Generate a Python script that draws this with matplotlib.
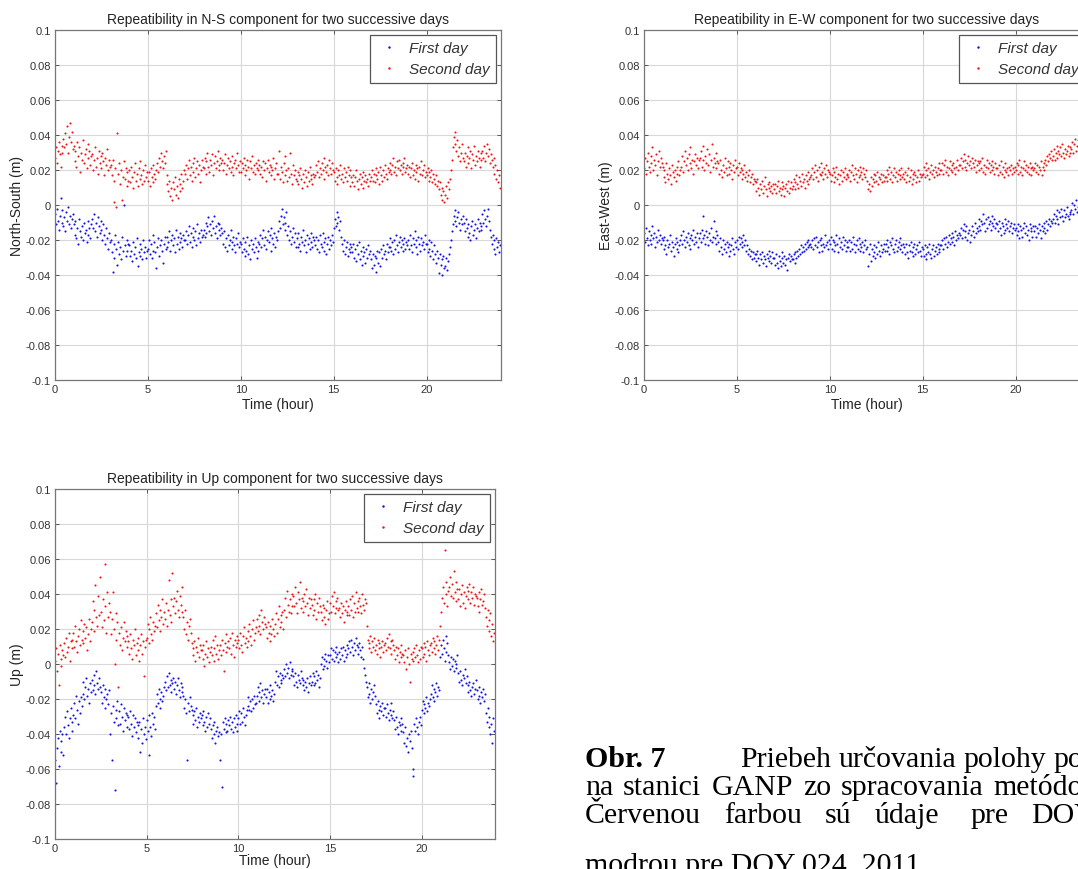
import numpy as np
import matplotlib
matplotlib.use("Agg")
import matplotlib.pyplot as plt
from matplotlib.lines import Line2D

# ---------------- data (mm), one sample every 3 minutes, 20 per hour ----------------
SAMPLE_MIN = 3

ns_day1 = [
 -5,-11,-2,-9,-14,-6,4,-10,-3,-12,-7,-15,-4,-9,-1,-11,-6,-13,-8,-5,
 -11,-17,-9,-19,-13,-22,-8,-15,-18,-12,-20,-10,-16,-14,-21,-9,-17,-13,-19,-11,
 -8,-13,-5,-15,-10,-18,-7,-12,-16,-9,-14,-20,-11,-17,-22,-13,-19,-25,-16,-21,
 -20,-27,-38,-22,-30,-17,-25,-34,-21,-28,-24,-31,-18,-26,0,-23,-29,-20,-26,-22,
 -23,-29,-26,-32,-21,-28,-24,-30,-19,-35,-27,-22,-29,-25,-31,-20,-27,-24,-30,-26,
 -25,-20,-28,-22,-30,-17,-26,-21,-27,-36,-24,-19,-29,-23,-20,-26,-33,-22,-18,-25,
 -18,-24,-21,-15,-26,-20,-17,-23,-19,-27,-14,-22,-18,-25,-16,-21,-19,-24,-17,-20,
 -20,-15,-22,-17,-12,-21,-16,-24,-18,-13,-20,-15,-23,-11,-19,-16,-21,-14,-18,-17,
 -14,-18,-10,-16,-12,-7,-15,-11,-17,-9,-13,-6,-16,-12,-19,-10,-14,-11,-17,-13,
 -16,-22,-15,-24,-19,-26,-17,-23,-20,-14,-25,-21,-18,-23,-27,-19,-22,-16,-24,-21,
 -22,-27,-19,-25,-29,-21,-26,-18,-28,-23,-31,-20,-25,-22,-27,-19,-24,-30,-21,-26,
 -22,-17,-24,-19,-14,-23,-18,-25,-20,-15,-21,-17,-26,-13,-19,-22,-16,-24,-18,-20,
 -15,-9,-13,-6,-2,-11,-7,-14,-10,-4,-17,-12,-20,-15,-22,-18,-13,-21,-16,-24,
 -19,-24,-16,-22,-26,-18,-21,-14,-23,-20,-27,-17,-22,-19,-25,-16,-21,-24,-18,-20,
 -23,-18,-25,-20,-27,-17,-22,-24,-16,-26,-21,-19,-28,-22,-18,-25,-20,-23,-17,-21,
 -13,-8,-12,-4,-10,-7,-14,-9,-18,-22,-26,-20,-28,-24,-21,-29,-25,-22,-27,-24,
 -27,-22,-30,-25,-32,-23,-28,-21,-31,-26,-34,-24,-29,-27,-33,-25,-30,-23,-28,-26,
 -31,-36,-28,-34,-29,-38,-30,-26,-33,-27,-35,-25,-30,-23,-28,-26,-31,-22,-27,-24,
 -24,-19,-26,-21,-28,-20,-25,-17,-23,-27,-21,-18,-24,-20,-26,-22,-19,-25,-21,-23,
 -20,-25,-17,-23,-27,-19,-22,-15,-24,-20,-28,-18,-22,-26,-19,-23,-21,-25,-17,-22,
 -22,-27,-20,-25,-29,-21,-26,-31,-23,-28,-33,-26,-30,-39,-28,-34,-31,-40,-29,-36,
 -35,-30,-37,-32,-28,-24,-20,-15,-11,-6,-3,-9,-12,-7,-4,-10,-14,-8,-11,-6,
 -10,-15,-8,-13,-18,-11,-16,-20,-12,-9,-17,-14,-11,-19,-13,-8,-15,-10,-14,-12,
 -5,-10,-3,-8,-12,-6,-2,-9,-14,-18,-22,-17,-25,-20,-28,-19,-24,-21,-27,-23,
]
ns_day2 = [
 27,33,24,31,36,29,22,34,30,38,33,41,35,45,30,39,47,36,42,32,
 34,25,31,22,36,28,33,19,30,26,37,24,29,32,21,35,27,31,23,28,
 29,20,26,33,22,27,18,31,24,28,21,30,25,17,27,23,32,20,26,22,
 23,17,26,14,2,21,-1,41,18,24,12,20,3,16,25,15,21,11,19,14,
 20,13,22,16,10,19,24,14,18,11,21,15,25,17,12,20,14,23,16,19,
 14,19,11,21,16,13,23,18,15,20,24,19,27,22,30,25,21,28,24,31,
 17,12,8,14,5,10,3,13,9,16,6,11,4,15,8,12,18,10,14,20,
 18,23,15,21,26,17,22,14,24,19,27,16,21,25,18,23,13,20,26,22,
 21,27,18,25,30,22,19,26,23,29,17,24,28,21,25,31,20,23,27,24,
 26,20,24,29,18,23,27,21,25,19,28,22,17,24,26,21,30,23,19,25,
 19,24,21,27,17,23,20,26,22,15,25,21,28,19,23,18,24,21,26,20,
 23,18,22,16,25,20,24,14,21,26,19,23,17,22,20,27,15,21,24,18,
 18,31,15,22,19,13,24,17,28,20,14,21,16,30,18,12,23,17,20,15,
 14,19,12,17,21,15,10,18,13,20,16,11,19,14,22,15,17,12,18,16,
 17,23,19,25,16,21,18,24,20,27,15,22,19,23,17,26,21,18,24,20,
 19,14,21,16,12,20,17,23,15,18,13,21,16,19,14,22,17,11,20,16,
 13,17,11,16,20,14,9,15,18,12,16,10,19,14,17,13,15,11,18,14,
 16,20,14,18,13,21,17,15,19,12,22,17,14,20,16,23,18,15,21,19,
 20,24,18,23,27,19,22,17,25,21,26,20,23,18,24,22,27,19,21,23,
 18,22,16,21,24,17,20,15,23,19,21,14,22,18,25,17,20,23,16,19,
 17,21,14,19,16,20,13,18,15,12,17,11,14,9,13,6,10,3,8,2,
 6,11,4,13,9,15,20,26,33,39,42,35,31,37,28,33,25,30,35,27,
 25,30,22,28,33,24,27,31,21,29,26,34,23,28,25,31,27,22,30,26,
 31,27,34,25,30,35,28,32,24,29,26,22,27,18,23,15,20,13,17,10,
]
ew_day1 = [
 -16,-21,-13,-19,-23,-15,-20,-17,-22,-12,-19,-16,-24,-18,-21,-14,-20,-17,-22,-19,
 -20,-25,-18,-23,-28,-20,-24,-22,-17,-26,-21,-24,-29,-22,-19,-25,-21,-27,-23,-20,
 -17,-22,-15,-20,-24,-18,-21,-16,-23,-19,-25,-17,-20,-14,-22,-18,-21,-16,-24,-19,
 -16,-21,-14,-19,-6,-17,-22,-15,-18,-23,-16,-20,-13,-21,-18,-9,-19,-15,-22,-17,
 -21,-26,-19,-24,-28,-20,-25,-22,-27,-21,-24,-29,-22,-26,-23,-19,-25,-28,-21,-24,
 -20,-25,-18,-22,-19,-24,-21,-17,-23,-20,-26,-23,-28,-25,-29,-26,-31,-27,-30,-28,
 -28,-32,-26,-30,-34,-28,-31,-27,-33,-29,-31,-35,-28,-30,-26,-32,-29,-33,-27,-30,
 -30,-34,-28,-33,-36,-29,-32,-35,-30,-27,-33,-29,-34,-31,-37,-30,-28,-32,-29,-31,
 -31,-28,-33,-27,-30,-26,-29,-25,-28,-23,-27,-24,-26,-22,-25,-21,-24,-20,-23,-22,
 -24,-20,-25,-19,-23,-18,-24,-21,-27,-20,-23,-19,-26,-22,-24,-17,-23,-21,-25,-20,
 -22,-18,-25,-20,-26,-21,-23,-17,-22,-27,-19,-24,-21,-25,-18,-23,-20,-26,-21,-24,
 -24,-20,-26,-21,-25,-18,-22,-27,-23,-20,-25,-19,-26,-22,-24,-21,-27,-23,-20,-25,
 -24,-35,-28,-22,-32,-25,-29,-23,-27,-30,-24,-28,-21,-26,-29,-23,-27,-25,-22,-26,
 -22,-26,-20,-24,-28,-21,-23,-19,-25,-27,-22,-20,-26,-24,-21,-25,-19,-23,-27,-22,
 -24,-28,-22,-27,-30,-23,-26,-21,-27,-29,-24,-22,-28,-25,-23,-27,-21,-26,-29,-24,
 -25,-29,-23,-28,-31,-24,-27,-22,-28,-30,-25,-23,-29,-26,-24,-28,-22,-27,-25,-23,
 -23,-20,-25,-19,-22,-18,-24,-21,-17,-22,-19,-16,-21,-18,-23,-15,-20,-17,-19,-16,
 -17,-13,-19,-14,-11,-18,-15,-12,-20,-16,-14,-21,-17,-12,-15,-18,-10,-16,-13,-15,
 -12,-8,-14,-9,-11,-5,-10,-15,-8,-13,-7,-11,-9,-14,-6,-10,-12,-8,-13,-10,
 -11,-15,-9,-13,-17,-10,-12,-16,-8,-14,-11,-13,-9,-15,-12,-10,-16,-13,-11,-14,
 -13,-17,-11,-15,-19,-12,-14,-18,-13,-10,-16,-12,-17,-14,-20,-11,-15,-13,-18,-12,
 -15,-12,-18,-13,-16,-11,-14,-19,-12,-15,-13,-10,-16,-9,-14,-11,-8,-12,-9,-10,
 -8,-5,-10,-6,-3,-8,-11,-4,-7,-2,-6,-9,-3,-7,-5,-1,-6,-8,-4,-5,
 -3,1,-5,0,-2,3,-4,-1,-6,2,-3,0,-5,-2,-7,-3,-1,-6,-4,-5,
]
ew_day2 = [
 21,27,18,25,30,22,19,28,24,33,20,26,23,29,17,25,31,22,27,24,
 22,16,20,13,24,18,15,21,17,12,23,19,16,20,14,22,18,25,17,20,
 22,28,19,25,31,23,27,20,29,24,33,21,26,18,25,29,23,27,21,26,
 27,31,22,34,26,20,28,24,32,23,29,19,26,35,22,27,24,30,21,25,
 24,18,26,20,16,23,19,27,21,17,25,22,18,24,20,15,23,19,26,21,
 22,17,24,19,21,15,20,18,23,16,19,14,17,20,13,16,18,12,15,14,
 13,8,15,10,6,12,9,14,7,11,16,9,5,12,10,13,8,11,7,12,
 9,12,7,11,14,8,10,6,13,9,11,5,10,12,8,14,7,10,13,9,
 11,15,9,13,17,12,10,16,14,11,18,13,15,10,17,14,12,19,15,16,
 17,21,15,19,23,16,20,14,22,18,24,17,19,15,21,18,23,16,20,19,
 18,14,17,21,13,19,16,22,15,18,12,17,20,14,19,16,21,15,18,17,
 16,20,14,19,23,17,15,21,18,13,20,16,22,17,19,15,21,18,16,20,
 14,9,12,8,16,11,15,18,13,17,14,19,12,16,15,18,13,17,14,16,
 16,20,14,18,22,15,19,13,17,21,16,19,14,18,20,15,17,21,16,18,
 15,19,13,17,21,14,16,20,12,18,15,19,17,13,16,20,14,18,16,17,
 18,22,16,20,24,17,21,15,19,23,18,20,16,22,19,17,21,24,18,20,
 20,24,18,23,26,19,22,17,21,25,20,23,19,24,21,18,22,26,20,23,
 23,27,21,25,29,22,26,20,24,28,23,25,21,27,24,22,26,19,23,25,
 24,20,25,21,27,19,23,18,22,26,21,24,19,23,20,25,22,18,24,21,
 21,17,23,19,25,18,22,16,20,24,19,21,17,22,20,23,18,21,19,22,
 20,24,18,23,26,19,22,17,21,25,20,23,19,22,18,24,21,17,22,20,
 21,24,19,23,18,22,20,25,17,22,24,20,26,23,28,25,29,27,31,26,
 28,32,26,30,34,27,31,29,33,28,35,30,27,32,29,31,34,28,33,30,
 32,36,30,35,38,31,34,37,33,36,31,35,39,33,36,32,37,34,38,35,
]
up_day1 = [
 -55,-68,-48,-42,-58,-38,-50,-44,-40,-52,-36,-30,-40,-27,-35,-42,-31,-25,-38,-33,
 -29,-22,-31,-18,-26,-34,-21,-28,-19,-24,-17,-10,-20,-13,-8,-18,-14,-22,-11,-16,
 -9,-15,-6,-12,-17,-4,-11,-14,-8,-13,-16,-22,-12,-19,-25,-14,-20,-17,-23,-15,
 -40,-28,-55,-24,-33,-72,-26,-31,-21,-35,-27,-34,-23,-30,-38,-25,-32,-28,-36,-29,
 -30,-37,-27,-34,-41,-29,-36,-31,-39,-33,-35,-42,-33,-50,-37,-45,-31,-40,-36,-43,
 -32,-38,-52,-29,-36,-41,-28,-34,-30,-37,-24,-17,-22,-14,-20,-25,-16,-21,-18,-13,
 -10,-15,-7,-13,-5,-12,-9,-16,-11,-8,-14,-10,-17,-12,-8,-15,-19,-11,-13,-16,
 -18,-25,-20,-28,-55,-22,-27,-19,-24,-26,-29,-34,-27,-32,-25,-36,-30,-33,-28,-31,
 -29,-35,-27,-33,-38,-30,-36,-28,-34,-31,-37,-42,-35,-40,-33,-45,-38,-36,-41,-39,
 -55,-40,-70,-33,-37,-31,-39,-34,-38,-32,-35,-30,-37,-33,-39,-31,-36,-29,-34,-38,
 -31,-27,-34,-28,-33,-25,-30,-35,-29,-26,-24,-19,-26,-21,-27,-20,-25,-18,-23,-22,
 -18,-13,-21,-16,-11,-19,-15,-22,-17,-14,-19,-14,-22,-16,-20,-12,-18,-15,-21,-17,
 -10,-4,-12,-7,-13,-5,-9,-11,-6,-8,-3,-7,0,-5,-2,-8,1,-6,-4,-3,
 -7,-12,-5,-10,-13,-6,-9,-11,-4,-8,-12,-9,-15,-10,-13,-8,-16,-11,-7,-12,
 -10,-5,-12,-7,-11,-4,-9,-6,-13,-8,0,4,-3,3,-1,6,2,-2,5,1,
 5,9,3,8,2,7,10,4,6,1,7,3,9,5,10,2,8,4,11,6,
 9,13,7,14,10,5,12,8,15,11,10,6,12,8,4,10,3,-2,-6,-10,
 -13,-19,-11,-17,-22,-14,-20,-16,-12,-18,-23,-28,-21,-26,-31,-24,-27,-22,-29,-25,
 -25,-30,-23,-28,-32,-26,-29,-22,-31,-27,-32,-37,-30,-36,-40,-33,-35,-31,-38,-34,
 -39,-45,-36,-47,-42,-50,-40,-44,-38,-48,-64,-60,-34,-38,-31,-36,-40,-33,-30,-35,
 -26,-21,-28,-23,-25,-19,-27,-22,-24,-20,-17,-12,-19,-14,-21,-16,-11,-18,-13,-15,
 4,11,6,14,9,2,16,7,12,5,1,-3,4,-1,3,-4,2,0,-2,5,
 -5,-10,-4,-9,-12,-6,-8,-3,-11,-7,-12,-16,-10,-15,-18,-13,-11,-17,-14,-9,
 -15,-20,-13,-18,-22,-16,-19,-14,-21,-17,-28,-33,-25,-36,-30,-40,-34,-45,-31,-38,
]
up_day2 = [
 2,9,-4,6,-12,11,3,-1,8,5,12,4,15,7,10,18,2,13,9,14,
 18,10,22,13,7,16,20,11,25,14,19,12,23,15,21,8,17,26,13,20,
 24,36,19,31,45,27,22,39,28,50,30,21,37,25,57,33,18,41,27,35,
 30,17,26,41,20,0,29,14,24,-13,18,11,21,8,15,24,13,19,10,16,
 13,6,17,9,3,14,11,20,5,12,8,15,2,11,17,6,13,-7,10,14,
 15,23,12,20,27,17,14,24,19,22,29,21,34,25,31,19,27,37,23,30,
 26,35,22,31,48,28,37,24,52,33,38,29,36,42,31,27,39,34,30,44,
 27,20,31,17,24,14,22,26,18,12,9,5,13,2,10,7,15,4,11,8,
 8,3,11,-1,6,13,4,9,1,7,10,5,14,2,9,16,6,11,3,8,
 11,5,14,8,-4,12,17,7,10,13,9,15,6,18,11,4,14,10,16,12,
 14,9,18,11,7,16,21,12,15,10,19,13,23,16,11,20,25,14,18,21,
 26,19,28,22,17,31,24,20,27,23,21,15,24,18,13,22,17,26,20,16,
 23,29,18,26,33,21,28,24,30,20,31,38,27,42,34,30,37,29,40,33,
 39,33,44,35,29,41,37,47,32,38,36,30,40,33,43,35,28,38,32,37,
 34,28,37,31,40,26,35,30,38,33,30,25,34,27,32,23,31,36,26,29,
 35,30,39,33,41,29,36,32,38,31,32,27,35,29,33,24,31,36,28,30,
 33,28,37,31,39,27,35,30,41,32,36,30,38,33,29,40,34,31,37,35,
 22,14,9,12,16,7,13,10,15,8,11,6,14,9,12,4,10,13,7,11,
 12,8,15,10,17,9,13,6,14,11,8,3,10,5,9,1,7,11,4,6,
 5,1,8,-3,4,9,0,-10,6,3,7,2,9,4,11,5,1,8,3,10,
 9,4,12,6,10,2,13,8,5,11,12,7,15,9,13,6,11,16,8,14,
 22,30,38,44,35,65,47,40,33,42,44,50,39,46,38,53,41,36,47,43,
 37,43,33,40,45,35,41,32,39,44,42,37,46,35,41,38,44,34,40,39,
 38,33,41,30,37,43,34,36,40,32,27,22,31,19,25,29,16,23,13,18,
]

titles = ["Repeatibility in N-S component for two successive days",
          "Repeatibility in E-W component for two successive days",
          "Repeatibility in Up component for two successive days"]
ylabels = ["North-South (m)", "East-West (m)", "Up (m)"]
xlabel = "Time (hour)"
legend_labels = ["First day", "Second day"]
xticks = [0, 5, 10, 15, 20]
yticks = [0.1, 0.08, 0.06, 0.04, 0.02, 0, -0.02, -0.04, -0.06, -0.08, -0.1]
ytick_labels = ["0.1", "0.08", "0.06", "0.04", "0.02", "0", "-0.02", "-0.04", "-0.06", "-0.08", "-0.1"]

# caption (justified lines in the source page; cut by the page edge)
caption_label = "Obr. 7"
caption_line1 = ["Priebeh", "určovania", "polohy", "pozície"]
caption_line2 = ["na", "stanici", "GANP", "zo", "spracovania", "metódou"]
caption_line3 = ["Červenou", "farbou", "sú", "údaje", "pre", "DOY"]
caption_line4 = "modrou pre DOY 024, 2011."

# ---------------- figure ----------------
plt.rcParams['font.family'] = ['Liberation Sans', 'DejaVu Sans']
W, H = 1078, 870
fig = plt.figure(figsize=(W / 100, H / 100), dpi=100)

def px_axes(x0, y0, x1, y1):
    return fig.add_axes([x0 / W, 1 - y1 / H, (x1 - x0) / W, (y1 - y0) / H])

boxes = [(55, 31, 501, 381), (644, 31, 1090, 381), (55, 490, 495, 840)]
xlabel_pads = [2, 2, 0]
series = [(ns_day1, ns_day2), (ew_day1, ew_day2), (up_day1, up_day2)]

BLUE = '#1010e8'
RED = '#ee1414'

for box, (d1, d2), title, ylab, lp in zip(boxes, series, titles, ylabels, xlabel_pads):
    ax = px_axes(*box)
    t1 = np.arange(len(d1)) * SAMPLE_MIN / 60.0
    t2 = np.arange(len(d2)) * SAMPLE_MIN / 60.0
    ax.plot(t1, np.array(d1) / 1000.0, '.', color=BLUE, ms=3.0, mew=0)
    ax.plot(t2, np.array(d2) / 1000.0, '.', color=RED, ms=3.0, mew=0)
    ax.set_xlim(0, 24)
    ax.set_ylim(-0.1, 0.1)
    ax.set_xticks(xticks)
    ax.set_xticklabels([str(v) for v in xticks])
    ax.set_yticks(yticks)
    ax.set_yticklabels(ytick_labels)
    ax.grid(True, color='#d8d8d8', lw=0.8)
    ax.set_axisbelow(True)
    ax.tick_params(direction='in', length=3, width=0.7, top=True, right=True,
                   labelsize=8, colors='#555555', labelcolor='#333333', pad=3)
    for s in ax.spines.values():
        s.set_color('#777777')
        s.set_linewidth(0.9)
    ax.set_title(title, fontsize=10, color='#222222', pad=5)
    ax.set_xlabel(xlabel, fontsize=10, color='#222222', labelpad=lp)
    ax.set_ylabel(ylab, fontsize=10, color='#222222', labelpad=1)
    handles = [Line2D([], [], ls='none', marker='.', ms=3.5, mew=0, color=BLUE),
               Line2D([], [], ls='none', marker='.', ms=3.5, mew=0, color=RED)]
    leg = ax.legend(handles, legend_labels, loc='upper right', fancybox=False,
                    prop={'style': 'italic', 'size': 11}, handlelength=1.6,
                    borderaxespad=0.3, borderpad=0.44, labelspacing=0.43,
                    handletextpad=0.5, framealpha=1)
    leg.get_frame().set_edgecolor('#555555')
    leg.get_frame().set_linewidth(0.9)
    for t in leg.get_texts():
        t.set_color('#333333')

# ---------------- caption ----------------
serif = ['Liberation Serif', 'DejaVu Serif']
CAP_FS = 21.5
renderer = fig.canvas.get_renderer()

def cap_text(x, yb, s, **kw):
    return fig.text(x / W, 1 - yb / H, s, fontsize=CAP_FS, family=serif,
                    va='baseline', ha='left', **kw)

def cap_words(words, x0, yb, gaps):
    x = x0
    for w, g in zip(words, gaps):
        t = cap_text(x, yb, w)
        bb = t.get_window_extent(renderer)
        x = bb.x1 + g

CAP_X = 585
cap_text(CAP_X, 767, caption_label, fontweight='bold')
cap_words(caption_line1, 740, 767, [7.5] * 4)
cap_words(caption_line2, CAP_X, 795, [10] * 6)
cap_words(caption_line3, CAP_X, 823, [23, 23, 23, 31, 23, 23])
cap_text(CAP_X, 873, caption_line4)

fig.savefig('out.png', dpi=100)
